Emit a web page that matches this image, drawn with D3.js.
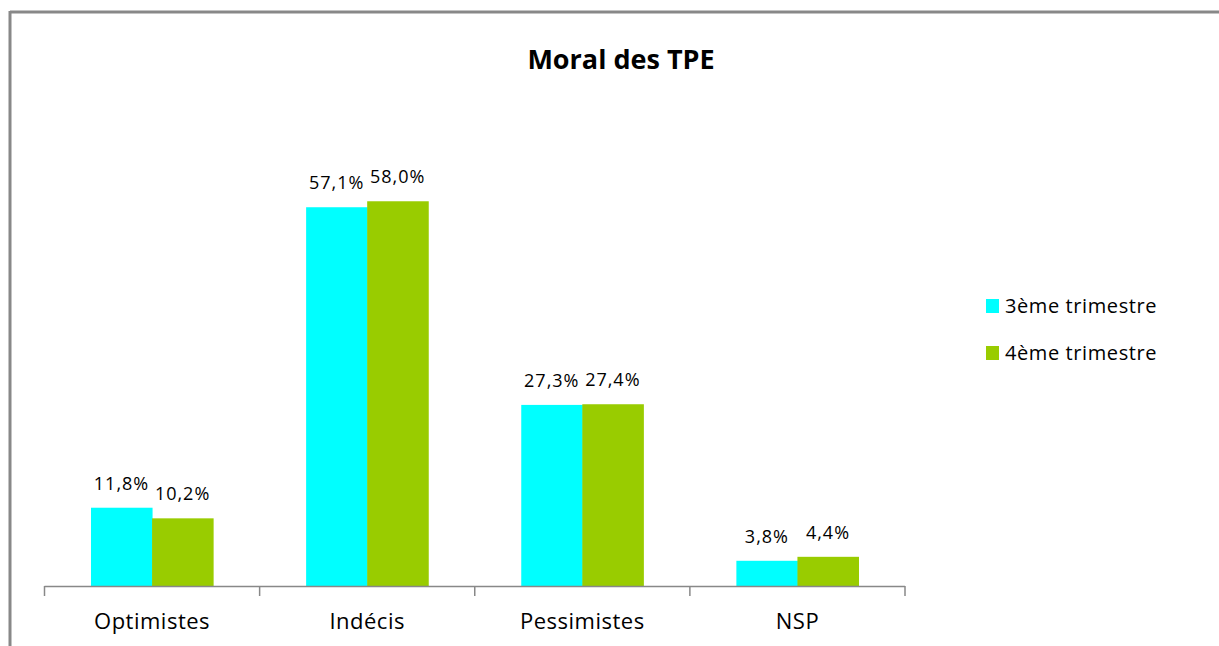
<!DOCTYPE html>
<html>
<head>
<meta charset="utf-8">
<script src="https://cdn.jsdelivr.net/npm/d3@7"></script>
<style>
  body { margin: 0; background: #fff; }
  text { font-family: 'Open Sans', 'DejaVu Sans', sans-serif; fill: #000; }
  .value { font-size: 18px; letter-spacing: 1px; }
  .cat { font-size: 22px; letter-spacing: 0.5px; }
  .legend { font-size: 20px; letter-spacing: 0.6px; }
  .title { font-size: 27px; font-weight: bold; }
</style>
</head>
<body>
<svg id="chart" width="1219" height="646"></svg>
<script>
const categories = ['Optimistes', 'Indécis', 'Pessimistes', 'NSP'];
const seriesNames = ['3ème trimestre', '4ème trimestre'];
const colors = ['#00ffff', '#99cc00'];
const q3 = [11.8, 57.1, 27.3, 3.8];
const q4 = [10.2, 58.0, 27.4, 4.4];
const seriesValues = [q3, q4];

const svg = d3.select('#chart');
const baseY = 586;
const axisLeft = 44.5;
const axisRight = 905;

// outer frame (top and left edges visible)
svg.append('line')
  .attr('x1', 10).attr('x2', 1219)
  .attr('y1', 12).attr('y2', 12)
  .attr('stroke', '#888').attr('stroke-width', 3);
svg.append('line')
  .attr('x1', 10).attr('x2', 10)
  .attr('y1', 11).attr('y2', 646)
  .attr('stroke', '#888').attr('stroke-width', 3);

svg.append('text')
  .attr('class', 'title')
  .attr('x', 621)
  .attr('y', 69)
  .attr('text-anchor', 'middle')
  .text('Moral des TPE');

const x0 = d3.scaleBand().domain(categories).range([axisLeft, axisRight]);
const x1 = d3.scaleBand()
  .domain(seriesNames)
  .range([46.5, x0.bandwidth() - 46.5]);
const y = d3.scaleLinear().domain([0, 60]).range([baseY, 188]);

const groups = svg.selectAll('g.cat')
  .data(categories)
  .join('g')
  .attr('class', 'cat')
  .attr('transform', (d) => `translate(${x0(d)},0)`);

seriesNames.forEach((s, si) => {
  groups.append('rect')
    .attr('x', x1(s))
    .attr('width', x1.bandwidth() + 0.5)
    .attr('y', (d, i) => y(seriesValues[si][i]))
    .attr('height', (d, i) => baseY - y(seriesValues[si][i]))
    .attr('fill', colors[si]);

  groups.append('text')
    .attr('class', 'value')
    .attr('x', x1(s) + x1.bandwidth() / 2)
    .attr('y', (d, i) => y(seriesValues[si][i]) - 18)
    .attr('text-anchor', 'middle')
    .text((d, i) => seriesValues[si][i].toFixed(1).replace('.', ',') + '%');
});

// x axis
svg.append('line')
  .attr('x1', axisLeft).attr('x2', axisRight)
  .attr('y1', baseY + 0.5).attr('y2', baseY + 0.5)
  .attr('stroke', '#888').attr('stroke-width', 1.5);
const tickPos = categories.map((c) => x0(c)).concat([axisRight]);
svg.selectAll('line.tick-mark')
  .data(tickPos)
  .join('line')
  .attr('class', 'tick-mark')
  .attr('x1', (d) => d).attr('x2', (d) => d)
  .attr('y1', baseY).attr('y2', baseY + 10)
  .attr('stroke', '#888').attr('stroke-width', 1.5);

groups.append('text')
  .attr('class', 'cat')
  .attr('x', x0.bandwidth() / 2)
  .attr('y', 629)
  .attr('text-anchor', 'middle')
  .text((d) => d);

// legend
const legend = svg.selectAll('g.legend-item')
  .data(seriesNames)
  .join('g')
  .attr('class', 'legend-item')
  .attr('transform', (d, i) => `translate(986,${299 + i * 47})`);
legend.append('rect')
  .attr('width', 13).attr('height', 14)
  .attr('fill', (d, i) => colors[i]);
legend.append('text')
  .attr('class', 'legend')
  .attr('x', 19)
  .attr('y', 14)
  .text((d) => d);
</script>
</body>
</html>
